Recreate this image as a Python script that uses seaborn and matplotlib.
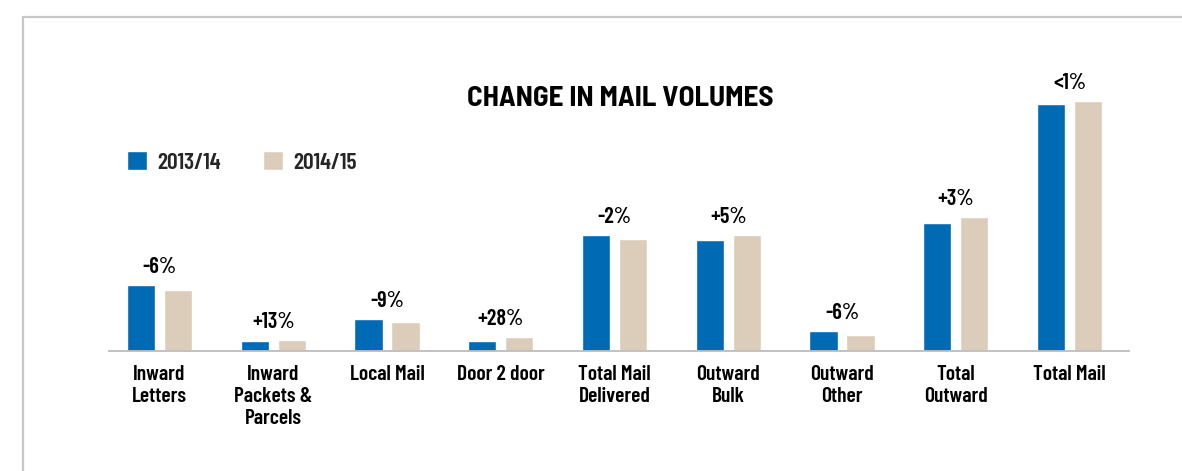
import pandas as pd
import matplotlib
matplotlib.use('Agg')
import matplotlib.pyplot as plt
import seaborn as sns
from matplotlib import font_manager
from matplotlib.lines import Line2D

categories = ['Inward\nLetters', 'Inward\nPackets &\nParcels', 'Local Mail', 'Door 2 door',
              'Total Mail\nDelivered', 'Outward\nBulk', 'Outward\nOther', 'Total\nOutward', 'Total Mail']
vol_2013 = [66, 10, 32, 10, 116, 111, 20, 128, 247]
vol_2014 = [61, 11, 29, 14, 112, 116, 16, 134, 250]
changes = ['-6%', '+13%', '-9%', '+28%', '-2%', '+5%', '-6%', '+3%', '<1%']
years = ['2013/14', '2014/15']
colors = ['#006AB5', '#DCCDBA']


def pick_font(wanted):
    names = {f.name for f in font_manager.fontManager.ttflist}
    for name in wanted:
        if name in names:
            return name
    return 'Liberation Sans'


def build_frame():
    rows = []
    for cat, a, b in zip(categories, vol_2013, vol_2014):
        rows.append({'category': cat, 'year': years[0], 'volume': a})
        rows.append({'category': cat, 'year': years[1], 'volume': b})
    return pd.DataFrame(rows)


def main():
    sns.set_style('white')
    font = pick_font(['Barlow Condensed', 'Asap Condensed', 'Archivo Narrow'])
    title_font = pick_font(['Barlow Semi Condensed', 'Barlow Condensed', 'Asap Condensed'])
    plt.rcParams['font.family'] = [font, 'DejaVu Sans']
    wt = 600

    W, H = 1182, 471
    fig = plt.figure(figsize=(W / 100, H / 100), dpi=100)
    ax = fig.add_axes([109 / W, (H - 351) / H, (1129 - 109) / W, 300 / H])

    df = build_frame()
    sns.barplot(data=df, x='category', y='volume', hue='year', order=categories,
                hue_order=years, palette=colors, width=0.65, gap=0.24,
                saturation=1, ax=ax, legend=True)

    ax.set_xlim(-0.444, 8.523)
    ax.set_ylim(0, 300)
    ax.set_xlabel('')
    ax.set_ylabel('')
    ax.set_yticks([])
    for side in ['top', 'left', 'right']:
        ax.spines[side].set_visible(False)
    ax.spines['bottom'].set_color('#BDBDBD')
    ax.spines['bottom'].set_linewidth(1.3)
    ax.tick_params(axis='x', length=0, pad=10)
    for lbl in ax.get_xticklabels():
        lbl.set_fontsize(15.5)
        lbl.set_fontweight(wt)
        lbl.set_linespacing(1.2)
        lbl.set_color('#000000')

    for i, txt in enumerate(changes):
        top = max(vol_2013[i], vol_2014[i])
        ax.annotate(txt, (i, top), xytext=(0, 6), textcoords='offset points',
                    ha='center', va='bottom', fontsize=16, fontweight=wt, color='#000000')

    handles, labels = ax.get_legend_handles_labels()
    ax.legend(handles, labels, loc='upper left', bbox_to_anchor=(127 / W, 1 - 151 / H),
              bbox_transform=fig.transFigure, ncol=2, frameon=False, borderpad=0,
              borderaxespad=0, handlelength=0.85, handleheight=0.85, handletextpad=0.45,
              columnspacing=1.75,
              prop={'family': [font, 'DejaVu Sans'], 'weight': wt, 'size': 17})

    fig.text(620 / W, 1 - 98 / H, 'CHANGE IN MAIL VOLUMES', ha='center', va='center',
             fontsize=21, fontweight=700, family=[title_font, 'DejaVu Sans'], color='#000000')

    # grey frame, only top and left edges are in view
    fig.add_artist(Line2D([23 / W, 1.0], [1 - 17 / H, 1 - 17 / H], transform=fig.transFigure,
                          color='#C8C8C8', lw=1.6))
    fig.add_artist(Line2D([23 / W, 23 / W], [0.0, 1 - 17 / H], transform=fig.transFigure,
                          color='#C8C8C8', lw=1.6))

    fig.savefig('out.png', dpi=100, facecolor='white')


if __name__ == '__main__':
    main()
